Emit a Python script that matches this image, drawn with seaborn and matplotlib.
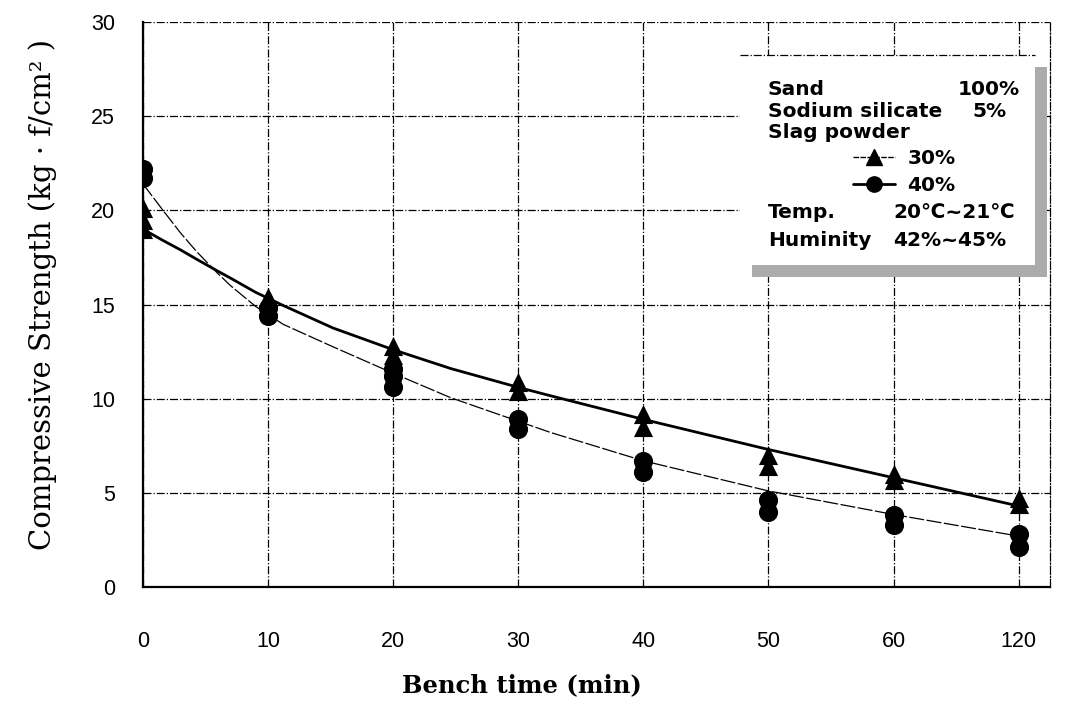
import matplotlib
matplotlib.use("Agg")
import matplotlib.pyplot as plt
from matplotlib.lines import Line2D
from matplotlib.patches import Rectangle
import seaborn as sns
import pandas as pd

# ---- data ----
categories = ["0", "10", "20", "30", "40", "50", "60", "120"]

# individual measurements (several per bench time)
slag30_values = [[19.0, 19.5, 20.1], [15.0, 15.4], [12.3, 12.8], [10.4, 10.9],
                 [8.5, 9.2], [6.4, 7.0], [5.7, 6.0], [4.4, 4.7]]
slag40_values = [[21.7, 22.2], [14.4, 14.8], [10.6, 11.2, 11.6], [8.4, 8.9],
                 [6.1, 6.7], [4.0, 4.6], [3.3, 3.8], [2.1, 2.8]]

# fitted trend curves (category-position, value)
curve_pos = [0, 0.16, 0.30, 0.43, 0.59, 0.70, 0.90, 1.12, 1.52, 2.0, 2.46,
             3.0, 3.26, 4.0, 5.0, 6.0, 7.0]
curve30 = [19.0, 18.4, 17.9, 17.4, 16.8, 16.4, 15.65, 14.95, 13.75, 12.6, 11.6,
           10.6, 10.15, 8.9, 7.3, 5.8, 4.3]
curve40 = [21.4, 20.0, 18.8, 17.8, 16.7, 16.0, 14.9, 13.95, 12.75, 11.35,
           10.05, 8.8, 8.2, 6.7, 5.1, 3.85, 2.7]

yticks = [0, 5, 10, 15, 20, 25, 30]

# ---- build tables ----
rows = []
for i, vals in enumerate(slag30_values):
    for v in vals:
        rows.append({"pos": i, "value": v, "series": "30%"})
for i, vals in enumerate(slag40_values):
    for v in vals:
        rows.append({"pos": i, "value": v, "series": "40%"})
pts = pd.DataFrame(rows)
c30 = pd.DataFrame({"pos": curve_pos, "value": curve30})
c40 = pd.DataFrame({"pos": curve_pos, "value": curve40})

sns.set_style("white")
plt.rcParams["font.family"] = ["Liberation Sans", "DejaVu Sans"]
for k in ["text.color", "axes.labelcolor", "xtick.color", "ytick.color"]:
    plt.rcParams[k] = "black"

fig = plt.figure(figsize=(10.8, 7.22), dpi=100)
ax = fig.add_axes([0.1324, 0.187, 0.8398, 0.7825])

# curves
sns.lineplot(data=c30, x="pos", y="value", ax=ax, color="black", lw=2.0,
             sort=False, estimator=None, legend=False)
sns.lineplot(data=c40, x="pos", y="value", ax=ax, color="black", lw=0.9,
             sort=False, estimator=None, legend=False)
ax.lines[-1].set_dashes([12, 2])

# markers
sns.scatterplot(data=pts[pts.series == "30%"], x="pos", y="value", ax=ax,
                marker="^", s=190, color="black", edgecolor="black",
                linewidth=0, legend=False, zorder=4)
sns.scatterplot(data=pts[pts.series == "40%"], x="pos", y="value", ax=ax,
                marker="o", s=190, color="black", edgecolor="black",
                linewidth=0, legend=False, zorder=4)

ax.set_xlim(0, 7.25)
ax.set_ylim(0, 30)
ax.set_xticks(range(len(categories)))
ax.set_xticklabels(categories)
ax.set_yticks(yticks)
ax.tick_params(axis="both", labelsize=15.5, length=0)
ax.tick_params(axis="y", pad=20)
ax.tick_params(axis="x", pad=32)

ax.grid(True, color="black", linestyle="-.", linewidth=0.9)
for s in ["left", "bottom"]:
    ax.spines[s].set_color("black")
    ax.spines[s].set_linewidth(1.6)
ax.spines["top"].set_visible(False)
ax.spines["right"].set_color("black")
ax.spines["right"].set_linestyle("-.")
ax.spines["right"].set_linewidth(0.9)

ax.set_xlabel("Bench time (min)", family=["DejaVu Serif"],
              fontsize=17.5, fontweight="bold")
ax.xaxis.set_label_coords(0.418, -0.152)
ax.set_ylabel("Compressive Strength (kg · f/cm² )",
              family=["DejaVu Serif"], fontsize=21)
ax.yaxis.set_label_coords(-0.095, 0.517)

# info box with shadow
shadow = Rectangle((0.672, 0.549), 0.325, 0.372, transform=ax.transAxes,
                   facecolor="#ababab", edgecolor="none", zorder=5)
box = Rectangle((0.658, 0.570), 0.325, 0.372, transform=ax.transAxes,
                facecolor="white", edgecolor="none", zorder=6)
ax.add_patch(shadow)
ax.add_patch(box)
ax.plot([0.658, 0.983], [0.942, 0.942], transform=ax.transAxes,
        color="black", lw=0.9, ls="-.", zorder=7)

tk = dict(transform=ax.transAxes, fontsize=14.5, fontweight="bold",
          va="center", zorder=8, family=["DejaVu Sans"])
ax.text(0.689, 0.880, "Sand", ha="left", **tk)
ax.text(0.967, 0.880, "100%", ha="right", **tk)
ax.text(0.689, 0.841, "Sodium silicate", ha="left", **tk)
ax.text(0.915, 0.841, "5%", ha="left", **tk)
ax.text(0.689, 0.804, "Slag powder", ha="left", **tk)
ax.text(0.689, 0.662, "Temp.", ha="left", **tk)
ax.text(0.827, 0.662, "20℃~21℃", ha="left", **tk)
ax.text(0.689, 0.614, "Huminity", ha="left", **tk)
ax.text(0.827, 0.614, "42%~45%", ha="left", **tk)

handles = [Line2D([], [], color="black", lw=1.0, ls=(0, (4, 1)), marker="^",
                  markersize=11),
           Line2D([], [], color="black", lw=2.0, marker="o", markersize=11)]
leg = ax.legend(handles, ["30%", "40%"], loc="upper left",
                bbox_to_anchor=(0.783, 0.776), frameon=False,
                prop={"weight": "bold", "size": 14.5, "family": "DejaVu Sans"},
                handlelength=2.1, handletextpad=0.6, labelspacing=0.4,
                borderpad=0, borderaxespad=0)
leg.set_zorder(9)

fig.savefig("out.png", dpi=100)
